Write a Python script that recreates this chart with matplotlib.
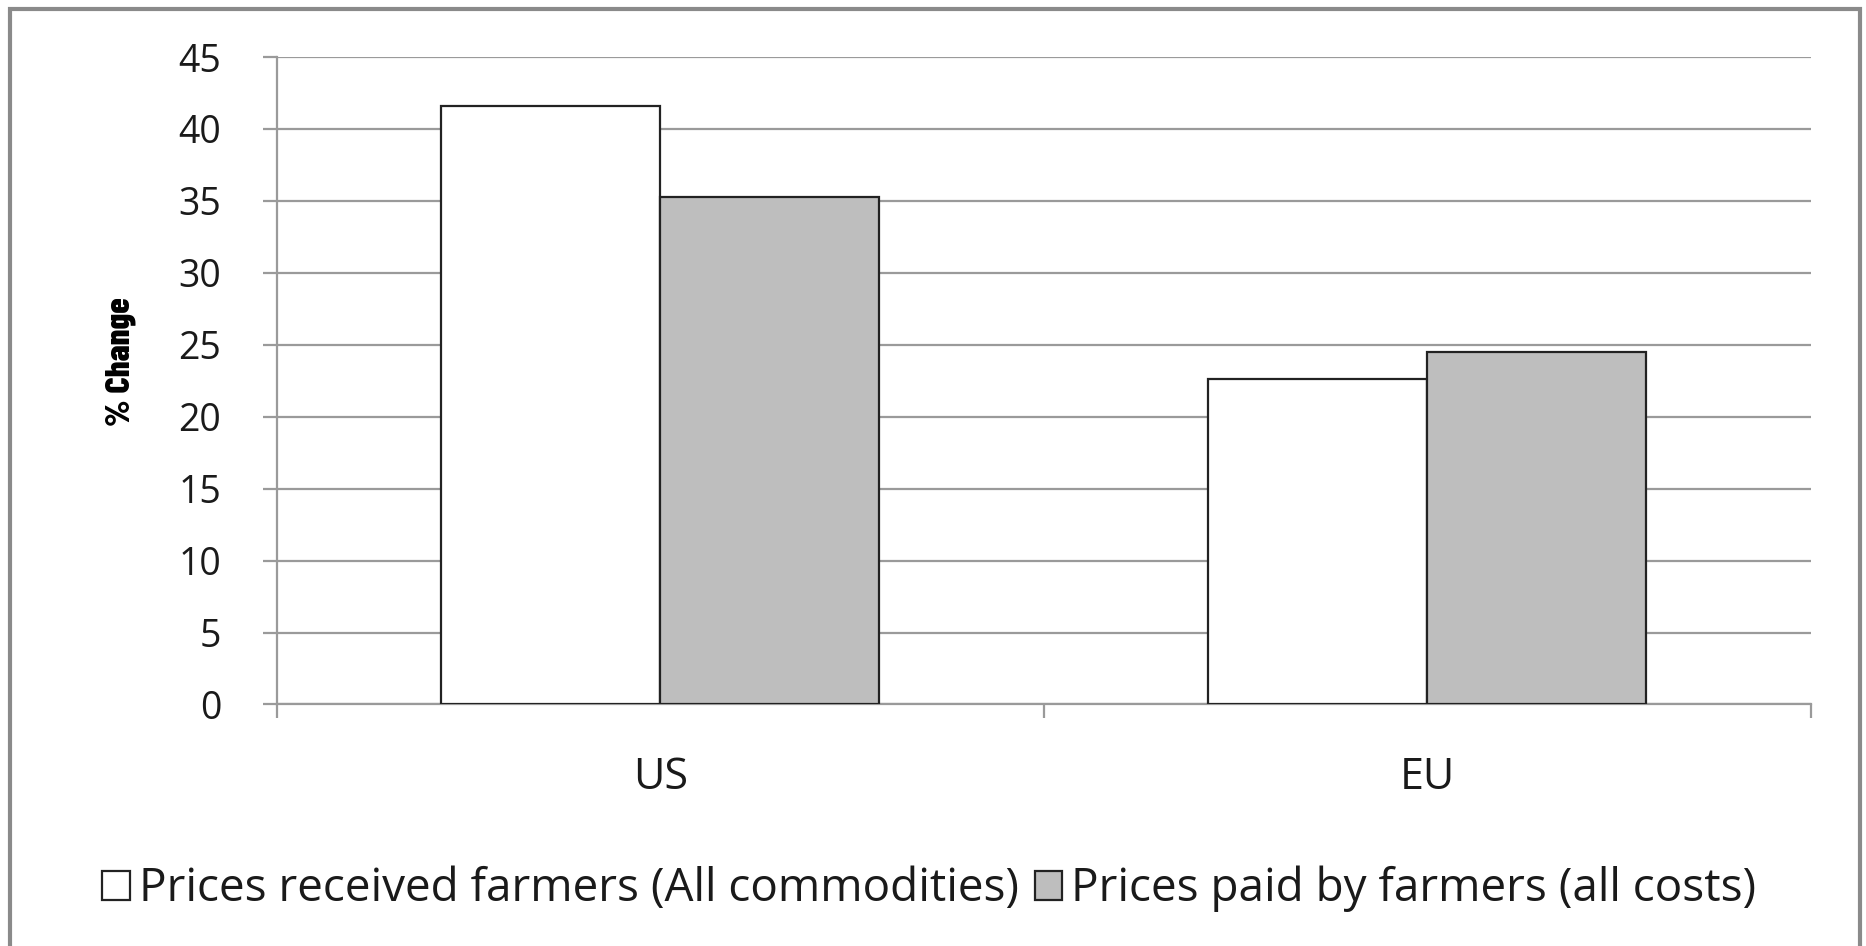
import numpy as np
import matplotlib
matplotlib.use("Agg")
import matplotlib.pyplot as plt
from matplotlib.patches import Rectangle

# values
regions = ['US', 'EU']
received = [41.6, 22.6]    # Prices received farmers (All commodities)
paid = [35.25, 24.5]       # Prices paid by farmers (all costs)
series_names = ['Prices received farmers (All commodities)',
                'Prices paid by farmers (all costs)']
yticks = [0, 5, 10, 15, 20, 25, 30, 35, 40, 45]

plt.rcParams['font.family'] = ['Open Sans', 'DejaVu Sans']

fig = plt.figure(figsize=(18.66, 9.46), dpi=100)
ax = fig.add_axes([0.1484, 0.2553, 0.822, 0.6844])

x = np.arange(len(regions))
w = 0.2857
ax.bar(x - w / 2, received, w, color='white', edgecolor='#222222',
       linewidth=1.6, label=series_names[0], zorder=3)
ax.bar(x + w / 2, paid, w, color='#bebebe', edgecolor='#222222',
       linewidth=1.6, label=series_names[1], zorder=3)

ax.set_xlim(-0.5, len(regions) - 0.5)
ax.set_ylim(0, 45)
ax.set_yticks(yticks)
ax.yaxis.grid(True, color='#9a9a9a', linewidth=1.6, zorder=0)
ax.set_axisbelow(True)

for s in ['top', 'right']:
    ax.spines[s].set_visible(False)
for s in ['left', 'bottom']:
    ax.spines[s].set_color('#9a9a9a')
    ax.spines[s].set_linewidth(1.6)

ax.set_xticks(x)
ax.set_xticklabels(regions)
ax.set_xticks(np.arange(-0.5, len(regions)), minor=True)
ax.tick_params(axis='x', which='major', length=0, pad=37, labelsize=31,
               labelcolor='#1a1a1a')
ax.tick_params(axis='x', which='minor', length=10, width=1.6, color='#9a9a9a')
ax.tick_params(axis='y', length=10, width=1.6, color='#9a9a9a', pad=30,
               labelsize=27, labelcolor='#1a1a1a')

# condensed bold face for the axis title, falls back if missing
ax.set_ylabel('% Change', fontsize=25, fontweight='heavy',
              family=['Barlow Condensed', 'Asap Condensed', 'Open Sans'])
ax.yaxis.set_label_coords(-0.092, 0.53)

leg = fig.legend(loc='center', bbox_to_anchor=(0.498, 0.06), ncol=2,
                 frameon=False, fontsize=33, handlelength=0.6,
                 handleheight=0.6, handletextpad=0.2, columnspacing=0.35)
for t in leg.get_texts():
    t.set_color('#1a1a1a')

# outer chart frame
fig.patches.append(Rectangle((0.0055, -0.05), 0.9915, 1.04,
                             transform=fig.transFigure, fill=False,
                             edgecolor='#8a8a8a', linewidth=3))

fig.savefig('out.png', dpi=100)
